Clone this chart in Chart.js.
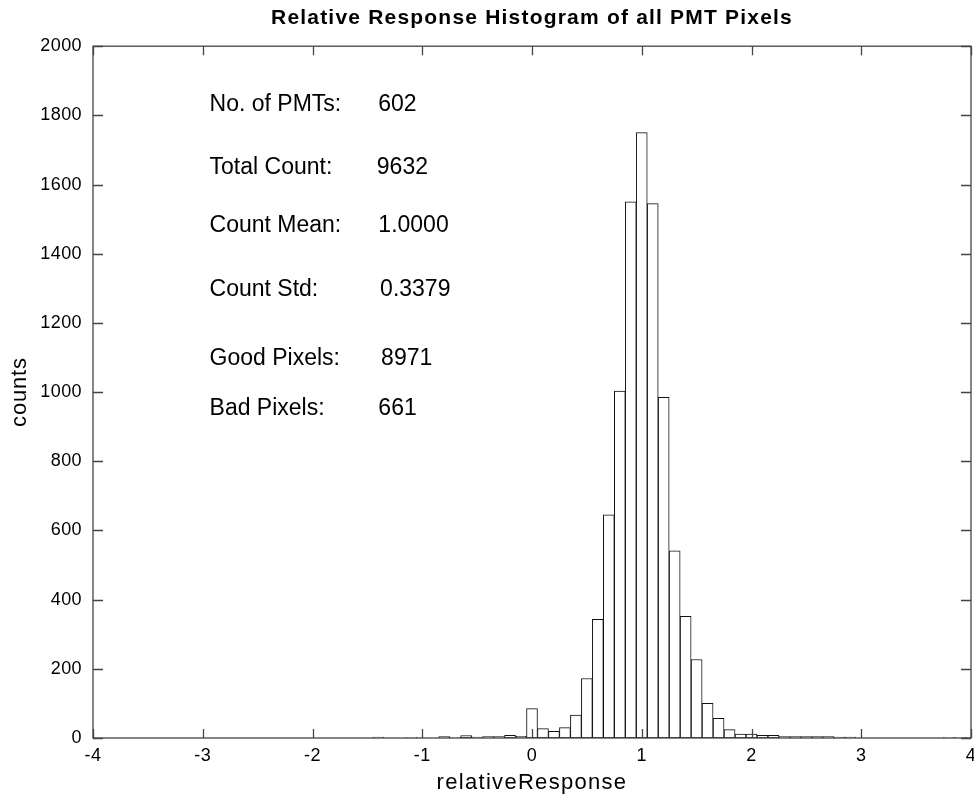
<!DOCTYPE html>
<html>
<head>
<meta charset="utf-8">
<script src="https://cdn.jsdelivr.net/npm/chart.js@4.4.0/dist/chart.umd.min.js"></script>
<style>
  html, body { margin: 0; padding: 0; background: #ffffff; }
  #wrap { width: 974px; height: 801px; }
</style>
</head>
<body>
<div id="wrap"><canvas id="c" width="974" height="801"></canvas></div>
<script>
// ---- data ----
const binCenters = [-1.4, -1.1, -0.8, -0.7, -0.6, -0.5, -0.4, -0.3, -0.2, -0.1,
  0.0, 0.1, 0.2, 0.3, 0.4, 0.5, 0.6, 0.7, 0.8, 0.9, 1.0, 1.1, 1.2, 1.3, 1.4, 1.5,
  1.6, 1.7, 1.8, 1.9, 2.0, 2.1, 2.2, 2.3, 2.4, 2.5, 2.6, 2.7, 2.8, 2.9, 3.8, 3.9, 4.0];
const binCounts = [3, 2, 4, 2, 7, 3, 4, 4, 8, 5,
  85, 27, 19, 30, 66, 172, 343, 645, 1003, 1550, 1750, 1545, 985, 541, 352, 227,
  100, 57, 24, 11, 11, 8, 8, 4, 4, 4, 4, 4, 3, 3, 2, 2, 2];
const xTickValues = [-4, -3, -2, -1, 0, 1, 2, 3, 4];
const yTickValues = [0, 200, 400, 600, 800, 1000, 1200, 1400, 1600, 1800, 2000];
const statLabels = ["No. of PMTs:", "Total Count:", "Count Mean:", "Count Std:", "Good Pixels:", "Bad Pixels:"];
const statValues = ["602", "9632", "1.0000", "0.3379", "8971", "661"];
const titleText = "Relative Response Histogram of all PMT Pixels";
const xTitle = "relativeResponse";
const yTitle = "counts";

// ---- layout of the text block (data coordinates) ----
const statLayout = {
  labelX: -2.938,
  valueX: [-1.402, -1.414, -1.400, -1.384, -1.375, -1.400],
  rowY: [1830, 1648, 1480, 1295, 1098, 953]
};

const FONT = '"Liberation Sans", Arial, Helvetica, sans-serif';
Chart.defaults.font.family = FONT;
Chart.defaults.color = '#000';

function wrapSpacing(obj, method, spacing) {
  if (!obj || obj['__w_' + method]) return;
  const d = obj[method];
  obj[method] = function (...a) {
    const c = this.ctx; c.save(); c.letterSpacing = spacing; d.apply(this, a); c.restore();
  };
  obj['__w_' + method] = true;
}

const spacingPlugin = {
  id: 'spacing',
  beforeDraw(chart) {
    wrapSpacing(chart.titleBlock, 'draw', '1.2px');
    wrapSpacing(chart.scales.x, 'drawTitle', '1.3px');
    wrapSpacing(chart.scales.y, 'drawTitle', '0.8px');
    wrapSpacing(chart.scales.x, 'drawLabels', '0.4px');
    wrapSpacing(chart.scales.y, 'drawLabels', '0.4px');
  }
};

const frameTicks = {
  id: 'frameTicks',
  afterDatasetsDraw(chart) {
    const { ctx, chartArea: { left, right, top, bottom }, scales: { x, y } } = chart;
    ctx.save();
    ctx.strokeStyle = '#444';
    ctx.lineWidth = 1.3;
    ctx.strokeRect(left, top, right - left, bottom - top);
    ctx.beginPath();
    x.ticks.forEach(t => {
      const px = Math.round(x.getPixelForValue(t.value)) + 0.5;
      ctx.moveTo(px, bottom); ctx.lineTo(px, bottom - 9);
      ctx.moveTo(px, top); ctx.lineTo(px, top + 9);
    });
    y.ticks.forEach(t => {
      const py = Math.round(y.getPixelForValue(t.value)) + 0.5;
      ctx.moveTo(left, py); ctx.lineTo(left + 10, py);
      ctx.moveTo(right, py); ctx.lineTo(right - 10, py);
    });
    ctx.stroke();
    ctx.fillStyle = '#000';
    ctx.font = '23px ' + FONT;
    ctx.textBaseline = 'middle';
    ctx.textAlign = 'left';
    statLabels.forEach((s, i) => {
      const py = y.getPixelForValue(statLayout.rowY[i]);
      ctx.fillText(s, x.getPixelForValue(statLayout.labelX), py);
      ctx.fillText(statValues[i], x.getPixelForValue(statLayout.valueX[i]), py);
    });
    ctx.restore();
  }
};

new Chart(document.getElementById('c'), {
  type: 'bar',
  data: {
    datasets: [{
      data: binCenters.map((v, i) => ({ x: v, y: binCounts[i] })),
      backgroundColor: '#ffffff',
      borderColor: '#111111',
      borderWidth: 1,
      borderSkipped: false,
      barPercentage: 1.0,
      categoryPercentage: 1.0
    }]
  },
  options: {
    responsive: false,
    animation: false,
    layout: { padding: { left: 0, right: 3, top: 0, bottom: 0 } },
    plugins: {
      legend: { display: false },
      tooltip: { enabled: false },
      title: {
        display: true,
        fullSize: false,
        text: titleText,
        color: '#000',
        font: { size: 21, weight: 'bold', family: FONT },
        padding: { top: 6, bottom: 15 }
      }
    },
    scales: {
      x: {
        type: 'linear',
        min: -4, max: 4,
        offset: false,
        grid: { display: false, offset: false, drawTicks: false, tickLength: 0 },
        border: { display: false },
        afterBuildTicks: s => { s.ticks = xTickValues.map(v => ({ value: v })); },
        ticks: { font: { size: 18 }, color: '#000', padding: 7, maxRotation: 0, autoSkip: false,
                 callback: v => String(v) },
        title: { display: true, text: xTitle, color: '#000', font: { size: 22 }, padding: { top: 0, bottom: 5 } },
        afterFit: s => { s.height = 63; s.paddingLeft = 0; s.paddingRight = 0; }
      },
      y: {
        type: 'linear',
        min: 0, max: 2000,
        grid: { display: false, drawTicks: false, tickLength: 0 },
        border: { display: false },
        afterBuildTicks: s => { s.ticks = yTickValues.map(v => ({ value: v })); },
        ticks: { font: { size: 18 }, color: '#000', padding: 11, autoSkip: false,
                 callback: v => String(v) },
        title: { display: true, text: yTitle, color: '#000', font: { size: 22 }, padding: { top: 7, bottom: 0 } },
        afterFit: s => { s.width = 93; s.paddingTop = 0; s.paddingBottom = 0; }
      }
    }
  },
  plugins: [spacingPlugin, frameTicks]
});
</script>
</body>
</html>
